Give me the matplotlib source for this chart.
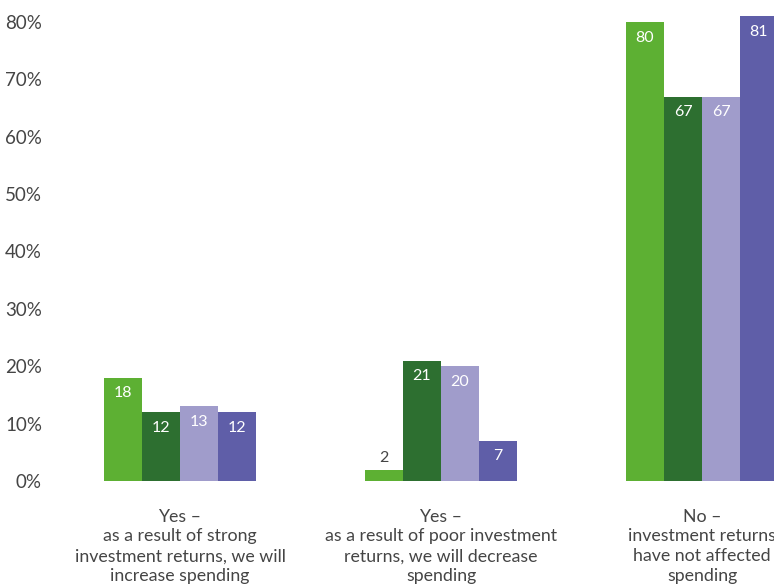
import matplotlib.pyplot as plt
import numpy as np

# survey answers and the share of respondents per series (%)
categories = [
    "Yes \u2013\nas a result of strong\ninvestment returns, we will\nincrease spending",
    "Yes \u2013\nas a result of poor investment\nreturns, we will decrease\nspending",
    "No \u2013\ninvestment returns\nhave not affected\nspending",
]
series_a = [18, 2, 80]
series_b = [12, 21, 67]
series_c = [13, 20, 67]
series_d = [12, 7, 81]
y_ticks = [0, 10, 20, 30, 40, 50, 60, 70, 80]

colors = ["#5db033", "#2d6f30", "#a09ccb", "#5f5ea8"]
text_gray = "#454545"

plt.rcParams['font.family'] = ['Lato', 'DejaVu Sans']

fig = plt.figure(figsize=(7.74, 5.85), dpi=100)
ax = fig.add_axes([60 / 774, 104 / 585, 714 / 774, 481 / 585])

x = np.arange(len(categories))
width = 38 / 261
all_series = [series_a, series_b, series_c, series_d]

for i, vals in enumerate(all_series):
    pos = x + (i - 1.5) * width
    ax.bar(pos, vals, width=width, color=colors[i], linewidth=0)
    for px, v in zip(pos, vals):
        if v < 5:
            ax.text(px, v + 0.8, str(v), ha='center', va='bottom',
                    fontsize=11.5, color=text_gray)
        else:
            ax.text(px, v - 1.5, str(v), ha='center', va='top',
                    fontsize=11.5, color='white')

ax.set_xlim((60 - 180) / 261, (774 - 180) / 261)
ax.set_ylim(0, 481 / 5.7375)
ax.set_yticks(y_ticks)
ax.set_yticklabels([f"{t}%" for t in y_ticks], fontsize=13.5, color=text_gray)
ax.tick_params(axis='y', length=0, pad=13)
ax.set_xticks([])

for side in ax.spines.values():
    side.set_visible(False)

for xi, label in zip(x, categories):
    ax.text(xi, -4.8, label, ha='center', va='top', fontsize=12.8,
            color=text_gray, linespacing=1.3, clip_on=False)

fig.savefig("out.png", dpi=100)
